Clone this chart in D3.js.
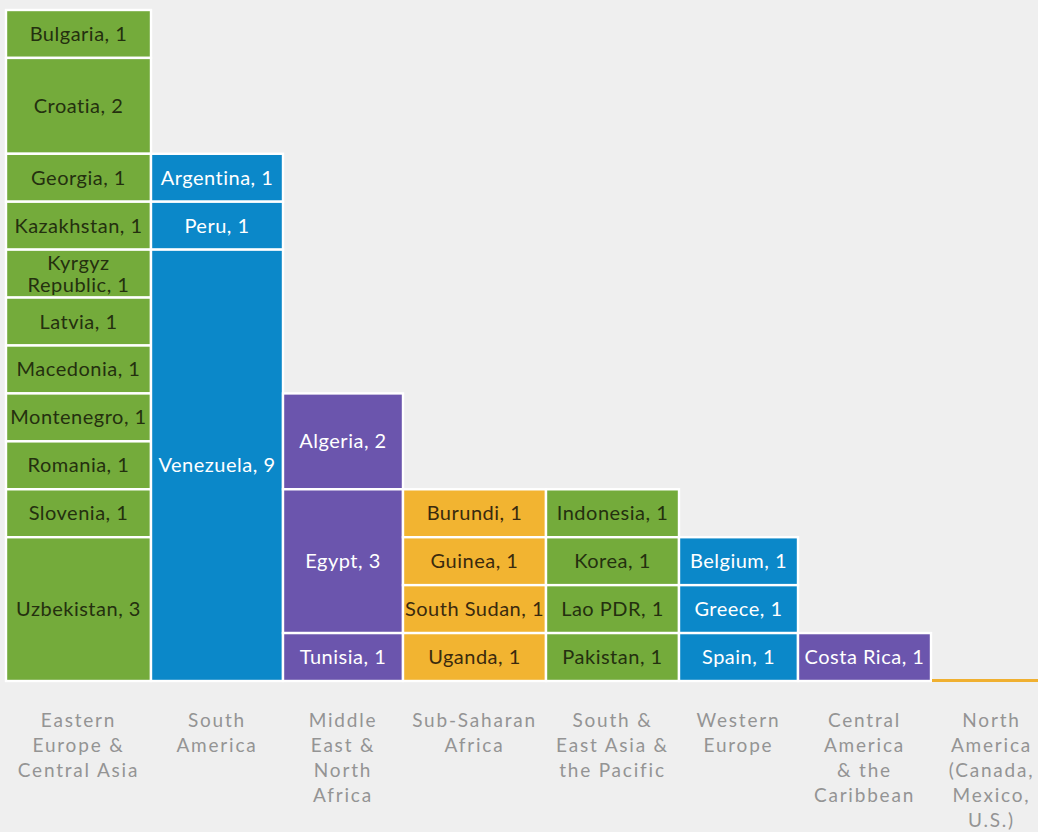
<!DOCTYPE html>
<html>
<head>
<meta charset="utf-8">
<script src="https://cdn.jsdelivr.net/npm/d3@7"></script>
<style>
  html, body { margin: 0; padding: 0; background: #efefef; }
  svg { display: block; }
</style>
</head>
<body>
<svg id="chart" width="1038" height="832"></svg>
<script>
// Regions along the bottom, left to right
const regions = [
  "Eastern Europe & Central Asia", "South America", "Middle East & North Africa",
  "Sub-Saharan Africa", "South & East Asia & the Pacific", "Western Europe",
  "Central America & the Caribbean", "North America (Canada, Mexico, U.S.)"
];
const regionLabels = [
  ["Eastern", "Europe &", "Central Asia"],
  ["South", "America"],
  ["Middle", "East &", "North", "Africa"],
  ["Sub-Saharan", "Africa"],
  ["South &", "East Asia &", "the Pacific"],
  ["Western", "Europe"],
  ["Central", "America", "& the", "Caribbean"],
  ["North", "America", "(Canada,", "Mexico,", "U.S.)"]
];

// Countries per region, top to bottom, with their counts
const easternEurope = [["Bulgaria", 1], ["Croatia", 2], ["Georgia", 1], ["Kazakhstan", 1],
  ["Kyrgyz\nRepublic", 1], ["Latvia", 1], ["Macedonia", 1], ["Montenegro", 1],
  ["Romania", 1], ["Slovenia", 1], ["Uzbekistan", 3]];
const southAmerica = [["Argentina", 1], ["Peru", 1], ["Venezuela", 9]];
const middleEast = [["Algeria", 2], ["Egypt", 3], ["Tunisia", 1]];
const subSaharan = [["Burundi", 1], ["Guinea", 1], ["South Sudan", 1], ["Uganda", 1]];
const eastAsia = [["Indonesia", 1], ["Korea", 1], ["Lao PDR", 1], ["Pakistan", 1]];
const westernEurope = [["Belgium", 1], ["Greece", 1], ["Spain", 1]];
const centralAmerica = [["Costa Rica", 1]];
const northAmerica = [];

const regionCountries = [easternEurope, southAmerica, middleEast, subSaharan,
  eastAsia, westernEurope, centralAmerica, northAmerica];

// Drawing styles
const fills = ["#74ab3b", "#0b88c9", "#6b55ad", "#f2b431", "#74ab3b", "#0b88c9", "#6b55ad", "#f0b030"];
const textFills = ["#24300f", "#ffffff", "#ffffff", "#3a2a0e", "#24300f", "#ffffff", "#ffffff", "#3a2a0e"];
// Relative column widths (columns are sized to fit their longest label)
const columnSpan = [145, 132, 120, 143, 133, 119, 133, 121];

const svg = d3.select("#chart");
const plotLeft = 6, plotBase = 681, plotTop = 10;

// Horizontal placement: cumulative column edges
const edges = [0];
columnSpan.forEach(w => edges.push(edges[edges.length - 1] + w));
const xEdge = d3.scaleLinear().domain([0, edges[edges.length - 1]])
  .range([plotLeft, plotLeft + edges[edges.length - 1]]);

const maxTotal = d3.max(regionCountries, c => d3.sum(c, d => d[1]));
const y = d3.scaleLinear().domain([0, maxTotal]).range([plotBase, plotTop]);

// Stack segments from the top of each column down to the baseline
const segments = [];
regionCountries.forEach((list, i) => {
  let acc = d3.sum(list, d => d[1]);
  list.forEach(([name, v]) => {
    segments.push({ region: i, name, value: v, y0: acc - v, y1: acc });
    acc -= v;
  });
});

const g = svg.append("g");

g.selectAll("rect.seg").data(segments).join("rect")
  .attr("class", "seg")
  .attr("x", d => xEdge(edges[d.region]))
  .attr("width", d => xEdge(edges[d.region + 1]) - xEdge(edges[d.region]))
  .attr("y", d => y(d.y1))
  .attr("height", d => y(d.y0) - y(d.y1))
  .attr("fill", d => fills[d.region])
  .attr("stroke", "#ffffff")
  .attr("stroke-width", 2.4);

// Empty region drawn as a thin line on the baseline
regionCountries.forEach((list, i) => {
  if (list.length === 0) {
    g.append("line")
      .attr("x1", xEdge(edges[i]) + 1).attr("x2", xEdge(edges[i + 1]))
      .attr("y1", y(0) - 0.5).attr("y2", y(0) - 0.5)
      .attr("stroke", fills[i]).attr("stroke-width", 3);
  }
});

// Segment labels
const labels = g.selectAll("text.seg").data(segments).join("text")
  .attr("class", "seg")
  .attr("font-family", "Lato, 'Open Sans', sans-serif")
  .attr("font-size", 20)
  .attr("letter-spacing", 0.5)
  .attr("fill", d => textFills[d.region])
  .attr("text-anchor", "middle");

labels.each(function(d) {
  const lines = (d.name + ", " + d.value).split("\n");
  const cx = (xEdge(edges[d.region]) + xEdge(edges[d.region + 1])) / 2;
  const cy = (y(d.y0) + y(d.y1)) / 2;
  const lh = 22;
  const t = d3.select(this);
  lines.forEach((line, k) => {
    t.append("tspan")
      .attr("x", cx)
      .attr("y", cy + (k - (lines.length - 1) / 2) * lh)
      .attr("dy", "0.35em")
      .text(line);
  });
});

// Region labels under the baseline
const axis = svg.append("g");
regionLabels.forEach((lines, i) => {
  const cx = (xEdge(edges[i]) + xEdge(edges[i + 1])) / 2;
  const t = axis.append("text")
    .attr("font-family", "Lato, 'Open Sans', sans-serif")
    .attr("font-size", 19)
    .attr("letter-spacing", 1.8)
    .attr("fill", "#949494")
    .attr("text-anchor", "middle")
    .attr("aria-label", regions[i]);
  lines.forEach((line, k) => {
    t.append("tspan")
      .attr("x", cx)
      .attr("y", 720 + k * 25)
      .attr("dy", "0.35em")
      .text(line);
  });
});
</script>
</body>
</html>
